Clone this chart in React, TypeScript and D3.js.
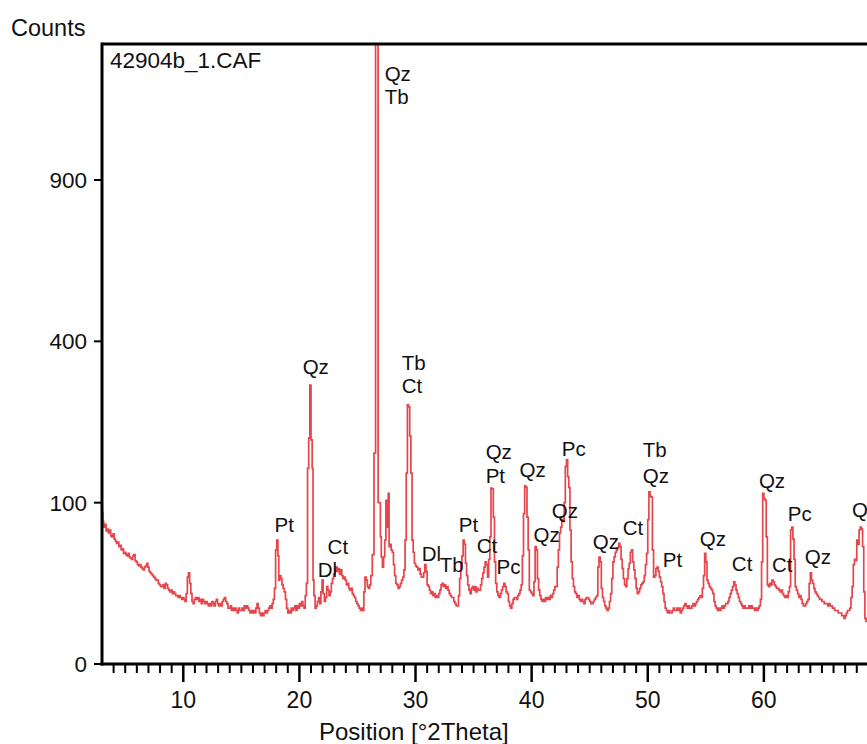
import React from "react";
import * as d3 from "d3";

// XRD scan: [position °2Theta, counts]
const scan: [number, number][] = [
  [3.0, 95], [3.05, 88], [3.1, 78], [3.2, 72], [3.3, 75], [3.4, 68], [3.5, 70], [3.6, 66], [3.7, 69], [3.8, 63], [3.9, 62],
  [4.0, 65], [4.1, 60], [4.2, 58], [4.3, 56], [4.4, 57], [4.5, 53], [4.6, 54], [4.7, 50], [4.8, 51], [4.9, 47],
  [5.0, 48], [5.1, 46], [5.2, 45], [5.3, 47], [5.4, 44], [5.5, 43], [5.6, 42], [5.7, 45], [5.8, 46], [5.9, 41],
  [6.0, 40], [6.1, 38], [6.2, 37], [6.3, 38], [6.4, 36], [6.5, 35], [6.6, 34], [6.7, 36], [6.8, 37], [6.9, 39],
  [7.0, 36], [7.1, 33], [7.2, 32], [7.3, 31], [7.4, 30], [7.5, 29], [7.6, 28], [7.7, 27], [7.8, 27], [7.9, 25],
  [8.0, 24], [8.1, 23], [8.2, 23], [8.3, 24], [8.4, 22], [8.5, 25], [8.6, 24], [8.7, 22], [8.8, 21], [8.9, 20],
  [9.0, 21], [9.1, 19], [9.2, 20], [9.3, 19], [9.4, 18], [9.5, 18], [9.6, 17], [9.7, 18], [9.8, 17], [9.9, 16],
  [10.0, 17], [10.1, 16], [10.2, 15], [10.3, 19], [10.4, 29], [10.5, 32], [10.6, 25], [10.7, 19], [10.8, 15], [10.9, 14],
  [11.0, 16], [11.1, 17], [11.2, 16], [11.3, 17], [11.4, 15], [11.5, 16], [11.6, 14], [11.7, 16], [11.8, 15], [11.9, 14],
  [12.0, 15], [12.1, 14], [12.2, 13], [12.3, 14], [12.4, 13], [12.5, 15], [12.6, 14], [12.7, 13], [12.8, 15], [12.9, 16],
  [13.0, 14], [13.1, 13], [13.2, 14], [13.3, 13], [13.4, 15], [13.5, 16], [13.6, 17], [13.7, 15], [13.8, 14], [13.9, 12],
  [14.0, 12], [14.1, 13], [14.2, 11], [14.3, 12], [14.4, 11], [14.5, 12], [14.6, 11], [14.7, 10], [14.8, 12], [14.9, 11],
  [15.0, 11], [15.1, 12], [15.2, 11], [15.3, 13], [15.4, 12], [15.5, 13], [15.6, 12], [15.7, 11], [15.8, 10], [15.9, 11],
  [16.0, 10], [16.1, 11], [16.2, 10], [16.3, 12], [16.4, 14], [16.5, 12], [16.6, 10], [16.7, 9], [16.8, 10], [16.9, 9],
  [17.0, 10], [17.1, 11], [17.2, 10], [17.3, 11], [17.4, 12], [17.5, 13], [17.6, 12], [17.7, 14], [17.8, 16], [17.9, 22],
  [18.0, 50], [18.1, 59], [18.2, 45], [18.25, 27], [18.35, 30], [18.45, 28], [18.55, 24], [18.65, 22], [18.75, 20], [18.85, 16],
  [18.95, 12], [19.05, 10], [19.15, 11], [19.25, 10], [19.35, 12], [19.45, 11], [19.55, 12], [19.65, 13], [19.75, 11], [19.85, 13],
  [19.95, 12], [20.05, 14], [20.15, 13], [20.25, 15], [20.35, 13], [20.45, 12], [20.55, 18], [20.65, 25], [20.75, 147], [20.85, 196],
  [20.95, 299], [21.05, 193], [21.15, 147], [21.2, 27], [21.3, 18], [21.4, 12], [21.5, 13], [21.6, 15], [21.7, 17], [21.8, 14],
  [21.9, 20], [22.0, 27], [22.1, 19], [22.2, 15], [22.3, 17], [22.4, 23], [22.5, 21], [22.6, 18], [22.7, 20], [22.8, 25],
  [22.9, 28], [23.0, 31], [23.1, 33], [23.2, 36], [23.3, 33], [23.4, 35], [23.5, 31], [23.6, 34], [23.7, 30], [23.8, 28],
  [23.9, 29], [24.0, 27], [24.1, 24], [24.2, 25], [24.3, 22], [24.4, 21], [24.5, 22], [24.6, 19], [24.7, 18], [24.8, 17],
  [24.9, 15], [25.0, 14], [25.1, 13], [25.2, 12], [25.3, 11], [25.4, 12], [25.5, 11], [25.6, 20], [25.7, 29], [25.8, 27],
  [25.9, 23], [26.0, 22], [26.1, 24], [26.2, 30], [26.35, 46], [26.5, 171], [26.62, 2200], [26.72, 2200], [26.84, 100],
  [26.95, 100], [27.0, 62], [27.1, 44], [27.2, 36], [27.3, 44], [27.4, 59], [27.5, 103], [27.6, 72], [27.7, 112], [27.75, 53],
  [27.85, 55], [27.95, 50], [28.05, 48], [28.15, 38], [28.25, 30], [28.35, 25], [28.45, 24], [28.55, 22], [28.65, 23], [28.75, 25],
  [28.85, 27], [28.95, 29], [29.05, 34], [29.15, 59], [29.25, 140], [29.35, 258], [29.45, 254], [29.55, 200], [29.65, 140], [29.75, 59],
  [29.85, 48], [29.95, 39], [30.05, 37], [30.15, 36], [30.25, 34], [30.35, 35], [30.45, 31], [30.55, 29], [30.65, 29], [30.75, 32],
  [30.85, 38], [30.95, 33], [31.05, 24], [31.15, 23], [31.25, 21], [31.35, 19], [31.45, 20], [31.55, 18], [31.65, 19], [31.75, 17],
  [31.85, 18], [31.95, 17], [32.05, 19], [32.15, 21], [32.25, 24], [32.35, 25], [32.45, 23], [32.55, 24], [32.65, 22], [32.75, 23],
  [32.85, 21], [32.95, 19], [33.05, 18], [33.15, 17], [33.25, 17], [33.35, 15], [33.45, 14], [33.55, 13], [33.65, 13], [33.75, 18],
  [33.85, 28], [33.95, 39], [34.05, 45], [34.15, 59], [34.25, 55], [34.35, 39], [34.45, 30], [34.55, 24], [34.65, 21], [34.75, 19],
  [34.85, 22], [34.95, 23], [35.05, 21], [35.15, 23], [35.25, 20], [35.35, 22], [35.45, 21], [35.55, 21], [35.65, 24], [35.75, 28],
  [35.85, 32], [35.95, 36], [36.05, 40], [36.15, 38], [36.25, 29], [36.35, 42], [36.45, 62], [36.55, 119], [36.65, 118], [36.75, 83],
  [36.85, 40], [36.95, 25], [37.05, 20], [37.15, 18], [37.25, 17], [37.35, 19], [37.45, 21], [37.55, 23], [37.65, 25], [37.75, 23],
  [37.85, 20], [37.95, 19], [38.05, 15], [38.15, 13], [38.25, 12], [38.35, 14], [38.45, 16], [38.55, 17], [38.65, 17], [38.75, 16],
  [38.85, 18], [38.95, 19], [39.05, 21], [39.15, 24], [39.25, 45], [39.35, 87], [39.45, 122], [39.55, 120], [39.65, 83], [39.75, 50],
  [39.85, 21], [39.95, 20], [40.05, 19], [40.15, 18], [40.25, 26], [40.35, 53], [40.45, 50], [40.55, 28], [40.65, 21], [40.75, 18],
  [40.85, 16], [40.95, 15], [41.05, 16], [41.15, 15], [41.25, 17], [41.35, 16], [41.45, 17], [41.55, 16], [41.65, 18], [41.75, 17],
  [41.85, 19], [41.95, 21], [42.05, 23], [42.15, 23], [42.25, 36], [42.35, 50], [42.45, 66], [42.55, 72], [42.65, 80], [42.75, 78],
  [42.85, 100], [42.95, 150], [43.05, 160], [43.15, 135], [43.25, 120], [43.35, 69], [43.45, 40], [43.55, 28], [43.65, 23], [43.75, 20],
  [43.85, 19], [43.95, 17], [44.05, 18], [44.15, 16], [44.25, 15], [44.35, 16], [44.45, 15], [44.55, 14], [44.65, 16], [44.75, 17],
  [44.85, 17], [44.95, 16], [45.05, 15], [45.15, 14], [45.25, 14], [45.35, 15], [45.45, 16], [45.55, 17], [45.65, 18], [45.75, 36],
  [45.85, 44], [45.95, 40], [46.05, 22], [46.15, 17], [46.25, 15], [46.35, 13], [46.45, 12], [46.55, 11], [46.65, 12], [46.75, 15],
  [46.85, 19], [46.95, 28], [47.05, 40], [47.15, 44], [47.25, 48], [47.35, 50], [47.45, 52], [47.55, 56], [47.65, 53], [47.75, 42],
  [47.85, 35], [47.95, 28], [48.05, 24], [48.15, 23], [48.25, 28], [48.35, 35], [48.45, 39], [48.55, 48], [48.65, 50], [48.75, 40],
  [48.85, 34], [48.95, 28], [49.05, 22], [49.15, 19], [49.25, 20], [49.35, 22], [49.45, 24], [49.55, 25], [49.65, 26], [49.75, 30],
  [49.85, 38], [49.95, 47], [50.05, 80], [50.15, 114], [50.25, 108], [50.35, 107], [50.45, 50], [50.55, 29], [50.65, 30], [50.75, 35],
  [50.85, 36], [50.95, 33], [51.05, 29], [51.15, 26], [51.25, 23], [51.35, 19], [51.45, 15], [51.55, 12], [51.65, 11], [51.75, 10],
  [51.85, 11], [51.95, 10], [52.05, 10], [52.15, 11], [52.25, 12], [52.35, 11], [52.45, 11], [52.55, 12], [52.65, 11], [52.75, 12],
  [52.85, 10], [52.95, 11], [53.05, 12], [53.15, 13], [53.25, 14], [53.35, 13], [53.45, 12], [53.55, 13], [53.65, 12], [53.75, 12],
  [53.85, 13], [53.95, 14], [54.05, 13], [54.15, 14], [54.25, 15], [54.35, 16], [54.45, 17], [54.55, 18], [54.65, 17], [54.75, 22],
  [54.85, 30], [54.95, 47], [55.05, 40], [55.15, 27], [55.25, 25], [55.35, 23], [55.45, 22], [55.55, 21], [55.65, 19], [55.75, 15],
  [55.85, 13], [55.95, 12], [56.05, 11], [56.15, 12], [56.25, 11], [56.35, 12], [56.45, 13], [56.55, 12], [56.65, 13], [56.75, 14],
  [56.85, 14], [56.95, 15], [57.05, 17], [57.15, 19], [57.25, 21], [57.35, 23], [57.45, 26], [57.55, 24], [57.65, 21], [57.75, 19],
  [57.85, 17], [57.95, 15], [58.05, 14], [58.15, 13], [58.25, 12], [58.35, 13], [58.45, 12], [58.55, 12], [58.65, 12], [58.75, 13],
  [58.85, 12], [58.95, 13], [59.05, 12], [59.15, 12], [59.25, 11], [59.35, 12], [59.45, 11], [59.55, 12], [59.65, 13], [59.75, 16],
  [59.85, 40], [59.95, 112], [60.05, 105], [60.15, 103], [60.25, 62], [60.35, 24], [60.45, 23], [60.55, 25], [60.65, 24], [60.75, 27],
  [60.85, 26], [60.95, 24], [61.05, 23], [61.15, 22], [61.25, 22], [61.35, 21], [61.45, 20], [61.55, 21], [61.65, 19], [61.75, 18],
  [61.85, 17], [61.95, 18], [62.05, 17], [62.15, 20], [62.25, 23], [62.35, 69], [62.45, 72], [62.55, 60], [62.65, 42], [62.75, 23],
  [62.85, 21], [62.95, 19], [63.05, 17], [63.15, 18], [63.25, 16], [63.35, 14], [63.45, 13], [63.55, 13], [63.65, 14], [63.75, 15],
  [63.85, 16], [63.95, 25], [64.05, 32], [64.15, 27], [64.25, 25], [64.35, 22], [64.45, 20], [64.55, 19], [64.65, 18], [64.75, 17],
  [64.85, 16], [64.95, 16], [65.05, 15], [65.15, 15], [65.25, 14], [65.35, 14], [65.45, 14], [65.55, 13], [65.65, 14], [65.75, 13],
  [65.85, 13], [65.95, 12], [66.05, 12], [66.15, 11], [66.25, 11], [66.35, 11], [66.45, 10], [66.55, 10], [66.65, 10], [66.75, 9],
  [66.85, 9], [66.95, 8], [67.05, 9], [67.15, 10], [67.25, 11], [67.35, 11], [67.45, 12], [67.55, 17], [67.65, 23], [67.75, 38],
  [67.85, 42], [67.95, 41], [68.05, 59], [68.15, 55], [68.25, 69], [68.35, 72], [68.45, 70], [68.55, 53], [68.65, 20], [68.75, 8],
  [68.85, 7], [69.0, 8],
];

// Phase labels: [anchor °2Theta, anchor counts, text]
const peakLabels: [number, number, string][] = [
  [27.34, 1342, "Qz"], [27.34, 1238, "Tb"],
  [20.28, 339, "Qz"], [17.86, 75, "Pt"],
  [22.43, 53.5, "Ct"], [21.57, 34, "Dl"],
  [28.81, 350, "Tb"], [28.81, 297, "Ct"],
  [30.53, 47, "Dl"], [32.08, 37.7, "Tb"],
  [33.72, 75, "Pt"], [35.27, 54.4, "Ct"],
  [36.04, 174, "Qz"], [36.04, 137, "Pt"],
  [36.98, 36.2, "Pc"], [38.96, 145, "Qz"],
  [40.17, 64, "Qz"], [41.73, 90, "Qz"],
  [42.59, 179, "Pc"], [45.26, 58, "Qz"],
  [47.85, 72, "Ct"], [49.57, 176, "Tb"],
  [49.57, 137, "Qz"], [51.29, 41.6, "Pt"],
  [54.48, 61, "Qz"], [57.24, 39, "Ct"],
  [59.57, 130, "Qz"], [60.69, 37.7, "Ct"],
  [62.06, 87.6, "Pc"], [63.53, 44, "Qz"],
  [67.58, 92, "Qz"],
];

const yTicks = [0, 100, 400, 900];
const xTicks = [10, 20, 30, 40, 50, 60];
const xMinorTicks = [
  4, 5, 6, 7, 8, 9, 11, 12, 13, 14, 15, 16, 17, 18, 19, 21, 22, 23, 24, 25, 26, 27, 28, 29,
  31, 32, 33, 34, 35, 36, 37, 38, 39, 41, 42, 43, 44, 45, 46, 47, 48, 49,
  51, 52, 53, 54, 55, 56, 57, 58, 59, 61, 62, 63, 64, 65, 66, 67, 68, 69,
];
const xDomain: [number, number] = [3, 70];
const yMax = 1477;
const sampleName = "42904b_1.CAF";
const yTitle = "Counts";
const xTitle = "Position [°2Theta]";

const W = 867;
const H = 744;
const L = 102;
const T = 44;
const B = 664;
const R = 880;
const FONT = "'Liberation Sans', Arial, Helvetica, sans-serif";

export default function App() {
  const x = d3.scaleLinear().domain(xDomain).range([L, R]);
  const y = d3.scaleSqrt().domain([0, yMax]).range([B, T]);
  const line = d3
    .line<[number, number]>()
    .x((d) => x(d[0]))
    .y((d) => y(d[1]))
    .curve(d3.curveStep);

  return (
    <svg
      width={W}
      height={H}
      style={{ position: "absolute", left: 0, top: 0, background: "#fff" }}
      fontFamily={FONT}
    >
      <defs>
        <clipPath id="plotClip">
          <rect x={L} y={T} width={R - L} height={B - T} />
        </clipPath>
      </defs>
      <rect x={0} y={0} width={W} height={H} fill="#fff" />

      {/* trace */}
      <path
        d={line(scan) || ""}
        fill="none"
        stroke="#e6454b"
        strokeWidth={1.7}
        strokeLinejoin="miter"
        clipPath="url(#plotClip)"
      />

      {/* frame */}
      <line x1={L} x2={W + 20} y1={T} y2={T} stroke="#000" strokeWidth={3} />
      <line x1={L} x2={L} y1={T - 1.5} y2={B + 1.5} stroke="#000" strokeWidth={3} />
      <line x1={L - 1.5} x2={W + 20} y1={B} y2={B} stroke="#000" strokeWidth={3} />

      {/* y ticks */}
      {yTicks.map((t) => (
        <g key={"y" + t}>
          <line x1={94} x2={L} y1={y(t)} y2={y(t)} stroke="#000" strokeWidth={2} />
          <text x={87} y={y(t) + 8} fontSize={22.5} textAnchor="end" fill="#111">
            {t}
          </text>
        </g>
      ))}

      {/* x ticks */}
      {xMinorTicks.map((t) => (
        <line key={"m" + t} x1={x(t)} x2={x(t)} y1={B} y2={B + 9} stroke="#000" strokeWidth={2} />
      ))}
      {xTicks.map((t) => (
        <g key={"x" + t}>
          <line x1={x(t)} x2={x(t)} y1={B} y2={B + 18} stroke="#000" strokeWidth={2.5} />
          <text x={x(t)} y={708} fontSize={23} textAnchor="middle" fill="#111">
            {t}
          </text>
        </g>
      ))}

      {/* titles */}
      <text x={11} y={36} fontSize={23.5} fill="#111">
        {yTitle}
      </text>
      <text x={319} y={740} fontSize={24} fill="#111">
        {xTitle}
      </text>
      <text x={110} y={68} fontSize={22.5} fill="#111">
        {sampleName}
      </text>

      {/* phase labels */}
      {peakLabels.map(([px, py, txt], i) => (
        <text key={"l" + i} x={x(px)} y={y(py) + 7.5} fontSize={20.5} fill="#111">
          {txt}
        </text>
      ))}
    </svg>
  );
}
